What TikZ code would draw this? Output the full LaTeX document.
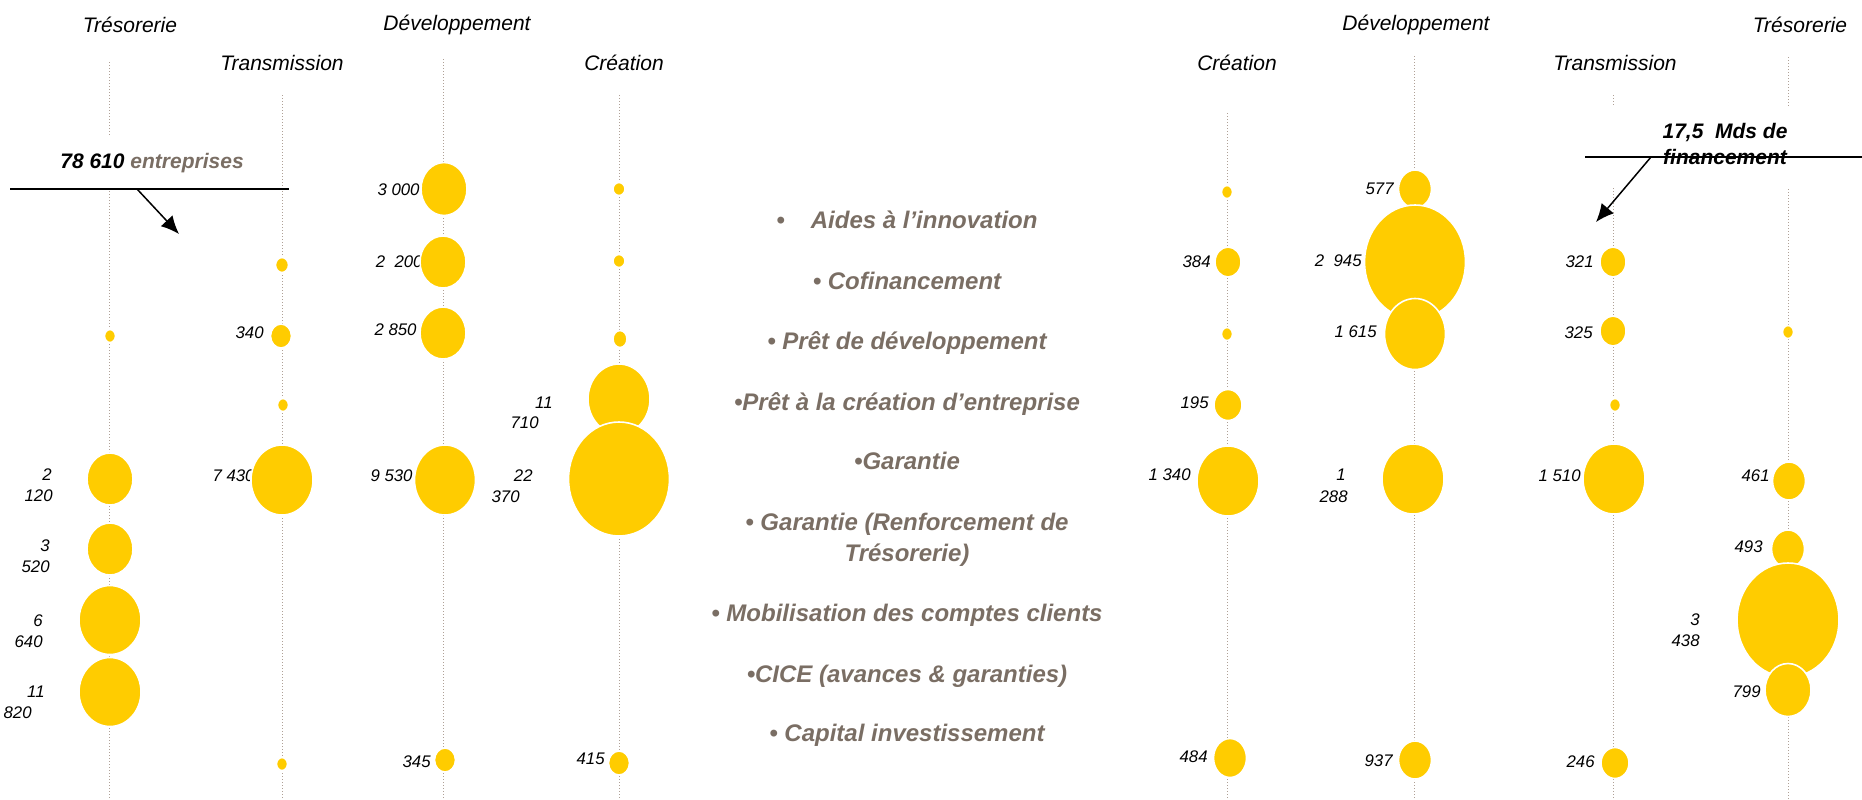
\documentclass[tikz,border=0pt]{standalone}
\usepackage{fontspec}
\setmainfont{Liberation Sans}
\usetikzlibrary{arrows.meta}

\definecolor{jaune}{RGB}{255,204,0}
\definecolor{brun}{RGB}{122,110,100}
\definecolor{filet}{RGB}{175,160,150}

\tikzset{
  axe/.style={draw=filet, densely dotted, line width=0.5pt},
  bulle/.style={fill=jaune, draw=white, line width=0.8pt},
  chiffre/.style={font=\fontsize{8.4}{10.5}\selectfont\itshape, anchor=base east, inner sep=0pt},
  titre/.style={font=\fontsize{10.5}{12}\selectfont\itshape, anchor=base, inner sep=0pt},
  rubrique/.style={font=\fontsize{12}{15.5}\selectfont\bfseries\itshape, text=brun, anchor=base, inner sep=0pt, align=center},
  bilan/.style={font=\fontsize{10.5}{13}\selectfont\bfseries\itshape, inner sep=0pt},
  fleche/.style={-{Latex[length=9pt,width=8pt]}, line width=0.75pt},
}

\begin{document}
\begin{tikzpicture}[x=0.5pt, y=-0.5pt]
    \useasboundingbox (0,0) rectangle (1862,799);

    \foreach \x/\y in {109/62, 282/95, 443/59, 619/95, 1227/113, 1414/56, 1613/95, 1788/57}
      \draw[axe] (\x,\y) -- (\x,799);

    \fill[white] (20,137) rectangle (270,189);
    \fill[white] (1600,107) rectangle (1800,188);

    \node[titre] (tg) at (130,32) {Trésorerie};
    \node[titre] (mg) at (282,70) {Transmission};
    \node[titre] (dg) at (457,30) {Développement};
    \node[titre] (cg) at (624,70) {Création};
    \node[titre] (cd) at (1237,70) {Création};
    \node[titre] (dd) at (1416,30) {Développement};
    \node[titre] (md) at (1615,70) {Transmission};
    \node[titre] (td) at (1800,32) {Trésorerie};

    % liste des rubriques
    \node[rubrique] (inno) at (907,228) {•\hspace{13pt}Aides à l’innovation};
    \node[rubrique] (cofi) at (907,289) {• Cofinancement};
    \node[rubrique] (pdev) at (907,349) {• Prêt de développement};
    \node[rubrique] (pcre) at (907,410) {•Prêt à la création d’entreprise};
    \node[rubrique] (gar) at (907,469) {•Garantie};
    \node[rubrique] (grt) at (907,561) {• Garantie (Renforcement de\\Trésorerie)};
    \node[rubrique] (mob) at (907,621) {• Mobilisation des comptes clients};
    \node[rubrique] (cice) at (907,682) {•CICE (avances \& garanties)};
    \node[rubrique] (cap) at (907,741) {• Capital investissement};

    % Tresorerie gauche
    \begin{scope}[]
    \node[chiffre] (tg-gar) at (52,480) {2};
    \node[chiffre] (tg-gar-b) at (53,501) {120};
    \node[chiffre] (tg-grt) at (50,551) {3};
    \node[chiffre] (tg-grt-b) at (50,572) {520};
    \node[chiffre] (tg-mob) at (43,626) {6};
    \node[chiffre] (tg-mob-b) at (43,647) {640};
    \node[chiffre] (tg-cice) at (45,697) {11};
    \node[chiffre] (tg-cice-b) at (32,718) {820};
    \draw[bulle] (110,336) ellipse (5.5 and 6.5);
    \draw[bulle] (110,479) ellipse (23 and 26);
    \draw[bulle] (110,549) ellipse (23 and 26);
    \draw[bulle] (110,620) ellipse (31 and 34.5);
    \draw[bulle] (110,692) ellipse (31 and 34.5);
    \end{scope}

    % Transmission gauche
    \begin{scope}[]
    \node[chiffre] (mg-pdev) at (264,338) {340};
    \node[chiffre] (mg-gar) at (255,481) {7 430};
    \draw[bulle] (282,265) ellipse (6.5 and 7.5);
    \draw[bulle] (281,336) ellipse (10.5 and 12);
    \draw[bulle] (283,405) ellipse (5.5 and 6.5);
    \draw[bulle] (282,480) ellipse (31 and 35);
    \draw[bulle] (282,764) ellipse (5.5 and 6.5);
    \end{scope}

    % Developpement gauche
    \begin{scope}[]
    \node[chiffre] (dg-inno) at (420,195) {3 000};
    \node[chiffre] (dg-cofi) at (423,267) {2~~200};
    \node[chiffre] (dg-pdev) at (417,335) {2 850};
    \node[chiffre] (dg-gar) at (413,481) {9 530};
    \node[chiffre] (dg-cap) at (431,767) {345};
    \draw[bulle] (444,189) ellipse (23 and 26.5);
    \draw[bulle] (443,262) ellipse (23 and 26);
    \draw[bulle] (443,333) ellipse (23 and 26);
    \draw[bulle] (445,480) ellipse (30.5 and 35);
    \draw[bulle] (445,760) ellipse (10.5 and 12);
    \end{scope}

    % Creation gauche
    \begin{scope}[]
    \node[chiffre] (cg-pcre) at (553,408) {11};
    \node[chiffre] (cg-pcre-b) at (539,428) {710};
    \node[chiffre] (cg-gar) at (533,481) {22};
    \node[chiffre] (cg-gar-b) at (520,502) {370};
    \node[chiffre] (cg-cap) at (605,764) {415};
    \draw[bulle] (619,189) ellipse (6 and 6.5);
    \draw[bulle] (619,261) ellipse (6 and 6.5);
    \draw[bulle] (620,339) ellipse (7 and 8.5);
    \draw[bulle] (619,399) ellipse (31 and 35);
    \draw[bulle] (619,479) ellipse (50.5 and 57);
    \draw[bulle] (619,763) ellipse (10.5 and 12);
    \end{scope}

    % Creation droite
    \begin{scope}[]
    \node[chiffre] (cd-cofi) at (1211,267) {384};
    \node[chiffre] (cd-pcre) at (1209,408) {195};
    \node[chiffre] (cd-gar) at (1191,480) {1 340};
    \node[chiffre] (cd-cap) at (1208,762) {484};
    \draw[bulle] (1227,192) ellipse (5.5 and 6.5);
    \draw[bulle] (1228,262) ellipse (13 and 15);
    \draw[bulle] (1227,334) ellipse (5.5 and 6.5);
    \draw[bulle] (1228,405) ellipse (14 and 15.5);
    \draw[bulle] (1228,481) ellipse (31 and 35);
    \draw[bulle] (1230,758) ellipse (16.5 and 19.5);
    \end{scope}

    % Developpement droite
    \begin{scope}[]
    \node[chiffre] (dd-inno) at (1394,194) {577};
    \node[chiffre] (dd-cofi) at (1362,266) {2~~945};
    \node[chiffre] (dd-pdev) at (1377,337) {1 615};
    \node[chiffre] (dd-gar) at (1346,480) {1};
    \node[chiffre] (dd-gar-b) at (1348,502) {288};
    \node[chiffre] (dd-cap) at (1393,766) {937};
    \draw[bulle] (1415,189) ellipse (16.5 and 19);
    \draw[bulle] (1415,262) ellipse (50.5 and 57);
    \draw[bulle] (1415,334) ellipse (30.5 and 35.5);
    \draw[bulle] (1413,479) ellipse (31 and 35);
    \draw[bulle] (1415,760) ellipse (16.5 and 19);
    \end{scope}

    % Transmission droite
    \begin{scope}[]
    \node[chiffre] (md-cofi) at (1594,267) {321};
    \node[chiffre] (md-pdev) at (1593,338) {325};
    \node[chiffre] (md-gar) at (1581,481) {1 510};
    \node[chiffre] (md-cap) at (1595,767) {246};
    \draw[bulle] (1613,262) ellipse (13 and 15);
    \draw[bulle] (1613,331) ellipse (13 and 15);
    \draw[bulle] (1615,405) ellipse (5.5 and 6.5);
    \draw[bulle] (1614,479) ellipse (31 and 35);
    \draw[bulle] (1615,763) ellipse (14 and 15.5);
    \end{scope}

    % Tresorerie droite
    \begin{scope}[]
    \node[chiffre] (td-gar) at (1770,481) {461};
    \node[chiffre] (td-grt) at (1763,552) {493};
    \node[chiffre] (td-mob) at (1700,625) {3};
    \node[chiffre] (td-mob-b) at (1700,646) {438};
    \node[chiffre] (td-cice) at (1761,697) {799};
    \draw[bulle] (1788,332) ellipse (5.5 and 6.5);
    \draw[bulle] (1789,481) ellipse (16.5 and 19);
    \draw[bulle] (1788,549) ellipse (16.5 and 19);
    \draw[bulle] (1788,620) ellipse (51 and 57);
    \draw[bulle] (1788,690) ellipse (23 and 26.5);
    \end{scope}

    % totaux
    \node[bilan, anchor=base west] (entr) at (60,168) {78 610 \textcolor{brun}{entreprises}};
    \node[bilan, anchor=base, align=center] (fin) at (1725,164) {17,5~~Mds de\\financement};

    \coordinate (entr-a) at (137,189);
    \coordinate (entr-b) at (179,234);
    \coordinate (fin-a) at (1651,157);
    \coordinate (fin-b) at (1596,222);

    \draw[line width=1pt] (10,189) -- (289,189) (1585,157) -- (1862,157);
    \draw[fleche] (entr-a) -- (entr-b);
    \draw[fleche] (fin-a) -- (fin-b);

\end{tikzpicture}
\end{document}
